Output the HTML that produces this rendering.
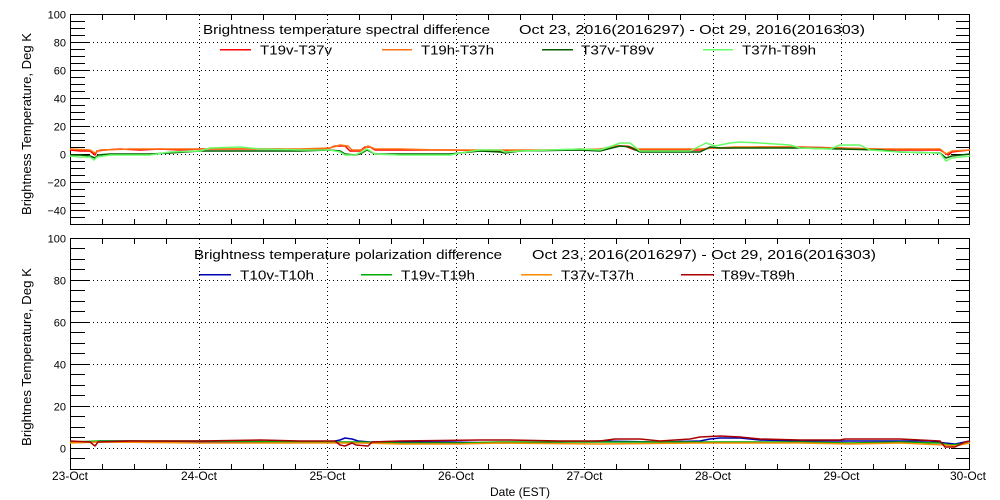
<!DOCTYPE html>
<html><head><meta charset="utf-8"><style>
html,body{margin:0;padding:0;background:#fff;}
svg{display:block;}
text{font-family:"Liberation Sans",sans-serif;fill:#000;}
</style></head><body>
<svg width="1000" height="500" viewBox="0 0 1000 500" xmlns="http://www.w3.org/2000/svg">
<rect width="1000" height="500" fill="#fff"/>

<!-- ============ TOP PANEL ============ -->
<g stroke="#000" stroke-width="1" fill="none" shape-rendering="crispEdges">
<rect x="70.5" y="14.5" width="899" height="210"/>
<path d="M70 21.5h15M70 28.5h15M70 35.5h15M70 49.5h15M70 56.5h15M70 63.5h15M70 77.5h15M70 84.5h15M70 91.5h15M70 105.5h15M70 112.5h15M70 119.5h15M70 133.5h15M70 140.5h15M70 147.5h15M70 161.5h15M70 168.5h15M70 175.5h15M70 189.5h15M70 196.5h15M70 203.5h15M70 217.5h15"/>
<path d="M970 21.5h-14M970 28.5h-14M970 35.5h-14M970 49.5h-14M970 56.5h-14M970 63.5h-14M970 77.5h-14M970 84.5h-14M970 91.5h-14M970 105.5h-14M970 112.5h-14M970 119.5h-14M970 133.5h-14M970 140.5h-14M970 147.5h-14M970 161.5h-14M970 168.5h-14M970 175.5h-14M970 189.5h-14M970 196.5h-14M970 203.5h-14M970 217.5h-14"/>
<path d="M70 42.5h19M70 70.5h19M70 98.5h19M70 126.5h19M70 154.5h19M70 182.5h19M70 210.5h19"/>
<path d="M970 42.5h-19M970 70.5h-19M970 98.5h-19M970 126.5h-19M970 154.5h-19M970 182.5h-19M970 210.5h-19"/>
<path d="M102.5 15v5M134.5 15v5M166.5 15v5M231.5 15v5M263.5 15v5M295.5 15v5M359.5 15v5M391.5 15v5M423.5 15v5M488.5 15v5M520.5 15v5M552.5 15v5M616.5 15v5M648.5 15v5M680.5 15v5M745.5 15v5M777.5 15v5M809.5 15v5M873.5 15v5M905.5 15v5M938.5 15v5"/>
<path d="M102.5 224v-5M134.5 224v-5M166.5 224v-5M231.5 224v-5M263.5 224v-5M295.5 224v-5M359.5 224v-5M391.5 224v-5M423.5 224v-5M488.5 224v-5M520.5 224v-5M552.5 224v-5M616.5 224v-5M648.5 224v-5M680.5 224v-5M745.5 224v-5M777.5 224v-5M809.5 224v-5M873.5 224v-5M905.5 224v-5M938.5 224v-5"/>
</g>
<g stroke="#000" stroke-width="1" fill="none" stroke-dasharray="1 3" shape-rendering="crispEdges">
<path d="M89 42.5H951M89 70.5H951M89 98.5H951M89 126.5H951M89 154.5H951M89 182.5H951M89 210.5H951"/>
<path d="M199.5 15V224M327.5 15V224M456.5 15V224M584.5 15V224M713.5 15V224M841.5 15V224"/>
</g>

<g fill="none" stroke-width="1.5" stroke-linejoin="round">
<polyline stroke="#ff0000" points="70,150 80,151 90,151 95,155 97,151 105,150 120,149 140,150 160,149 180,150 200,149 240,149 280,149 300,150 320,149 330,148 335,146 345,146 350,151 360,151 365,147 370,147 375,150 400,150 450,150 500,151 560,150 580,149 600,150 615,146 625,146 635,150 700,150 710,148 730,148 760,147 800,147 840,148 870,149 900,150 940,150 945,153 948,155 952,152 960,151 970,150"/>
<polyline stroke="#ff7010" points="70,149 90,150 95,153 100,150 130,149 200,149 300,149 330,148 340,145 348,146 352,150 362,150 368,146 375,149 400,149 440,150 500,150 560,150 600,149 618,146 628,146 636,149 700,149 715,148 735,147 780,147 840,148 880,149 940,149 946,154 952,151 970,150"/>
<polyline stroke="#005a00" points="70,155 80,155 90,156 95,158 98,155 110,154 150,154 170,153 200,151 240,151 300,151 330,150 340,151 345,154 355,155 360,154 367,150 375,154 400,154 450,154 460,153 480,151 500,152 505,153 520,151 580,150 600,151 612,148 620,146 630,147 640,152 700,152 710,147 720,148 740,148 800,148 840,149 880,150 900,152 940,153 946,158 952,156 970,154"/>
<polyline stroke="#66ff66" points="70,156 80,157 90,157 94,160 97,157 110,155 150,155 170,152 200,151 210,148 240,147 260,149 300,150 330,150 340,152 345,155 355,155 362,152 367,149 375,154 400,155 450,155 460,153 480,150 500,150 505,152 520,151 580,149 600,150 612,146 620,143 630,143 640,151 690,151 700,146 706,143 715,146 730,143 740,142 760,143 790,145 800,148 830,149 840,145 860,145 870,150 900,152 940,153 946,161 952,158 970,156"/>
</g>

<g font-size="11" text-anchor="end">
<text x="66" y="18.5">100</text>
<text x="66" y="46.5">80</text>
<text x="66" y="74.5">60</text>
<text x="66" y="102.5">40</text>
<text x="66" y="130.5">20</text>
<text x="66" y="158.5">0</text>
<text x="66" y="186.5">−20</text>
<text x="66" y="214.5">−40</text>
</g>
<text font-size="13" text-anchor="middle" transform="translate(31,124) rotate(-90)" textLength="182" lengthAdjust="spacingAndGlyphs">Brightness Temperature, Deg K</text>

<g font-size="13">
<text x="203" y="34" textLength="287" lengthAdjust="spacingAndGlyphs">Brightness temperature spectral difference</text>
<text x="519" y="34" textLength="346" lengthAdjust="spacingAndGlyphs">Oct 23, 2016(2016297) - Oct 29, 2016(2016303)</text>
<text x="260" y="54.5" textLength="72" lengthAdjust="spacingAndGlyphs">T19v-T37v</text>
<text x="421" y="54.5" textLength="73" lengthAdjust="spacingAndGlyphs">T19h-T37h</text>
<text x="581" y="54.5" textLength="73" lengthAdjust="spacingAndGlyphs">T37v-T89v</text>
<text x="742" y="54.5" textLength="74" lengthAdjust="spacingAndGlyphs">T37h-T89h</text>
</g>
<g shape-rendering="crispEdges">
<rect x="220" y="49" width="31" height="1.5" fill="#ff0000"/>
<rect x="382" y="49" width="30" height="1.5" fill="#ff7010"/>
<rect x="542" y="49" width="31" height="1.5" fill="#005a00"/>
<rect x="703" y="49" width="30" height="1.5" fill="#66ff66"/>
</g>

<!-- ============ BOTTOM PANEL ============ -->
<g stroke="#000" stroke-width="1" fill="none" shape-rendering="crispEdges">
<rect x="70.5" y="238.5" width="899" height="231"/>
<path d="M70 248.5h15M70 259.5h15M70 269.5h15M70 290.5h15M70 301.5h15M70 311.5h15M70 332.5h15M70 343.5h15M70 353.5h15M70 374.5h15M70 385.5h15M70 395.5h15M70 416.5h15M70 427.5h15M70 437.5h15M70 458.5h15"/>
<path d="M970 248.5h-14M970 259.5h-14M970 269.5h-14M970 290.5h-14M970 301.5h-14M970 311.5h-14M970 332.5h-14M970 343.5h-14M970 353.5h-14M970 374.5h-14M970 385.5h-14M970 395.5h-14M970 416.5h-14M970 427.5h-14M970 437.5h-14M970 458.5h-14"/>
<path d="M70 280.5h19M70 322.5h19M70 364.5h19M70 406.5h19M70 448.5h19"/>
<path d="M970 280.5h-19M970 322.5h-19M970 364.5h-19M970 406.5h-19M970 448.5h-19"/>
<path d="M102.5 239v5M134.5 239v5M166.5 239v5M231.5 239v5M263.5 239v5M295.5 239v5M359.5 239v5M391.5 239v5M423.5 239v5M488.5 239v5M520.5 239v5M552.5 239v5M616.5 239v5M648.5 239v5M680.5 239v5M745.5 239v5M777.5 239v5M809.5 239v5M873.5 239v5M905.5 239v5M938.5 239v5"/>
<path d="M102.5 469v-5M134.5 469v-5M166.5 469v-5M231.5 469v-5M263.5 469v-5M295.5 469v-5M359.5 469v-5M391.5 469v-5M423.5 469v-5M488.5 469v-5M520.5 469v-5M552.5 469v-5M616.5 469v-5M648.5 469v-5M680.5 469v-5M745.5 469v-5M777.5 469v-5M809.5 469v-5M873.5 469v-5M905.5 469v-5M938.5 469v-5"/>
</g>
<g stroke="#000" stroke-width="1" fill="none" stroke-dasharray="1 3" shape-rendering="crispEdges">
<path d="M89 280.5H951M89 322.5H951M89 364.5H951M89 406.5H951M89 448.5H951"/>
<path d="M199.5 239V469M327.5 239V469M456.5 239V469M584.5 239V469M713.5 239V469M841.5 239V469"/>
</g>

<g fill="none" stroke-width="1.5" stroke-linejoin="round">
<polyline stroke="#0000b0" points="70,442 90,442 100,441 130,441 200,442 260,442 300,442 330,442 340,440 345,438 352,439 358,441 370,442 400,442 450,442 500,443 560,442 600,441 660,442 700,441 710,439 720,438 740,438 760,440 800,441 840,441 900,441 930,441 945,443 955,444 970,441"/>
<polyline stroke="#00aa00" points="70,442 100,441 200,441 300,442 340,442 360,442 400,443 460,443 500,442 600,442 700,442 800,442 850,443 900,442 940,443 950,445 970,443"/>
<polyline stroke="#ff8c00" points="70,443 100,442 200,443 300,443 340,443 360,443 400,444 460,444 500,443 600,444 700,443 800,443 850,444 900,443 945,445 955,446 970,443"/>
<polyline stroke="#aa0000" points="70,441 90,442 95,446 98,442 130,441 200,441 260,440 300,441 335,441 340,445 345,446 352,443 356,445 368,446 372,442 400,441 480,440 510,440 560,441 600,441 615,439 640,439 660,441 690,439 700,437 720,436 740,437 760,439 800,440 840,440 845,439 900,439 940,441 945,447 955,447 965,442 970,441"/>
</g>

<g font-size="11" text-anchor="end">
<text x="66" y="242.5">100</text>
<text x="66" y="284.5">80</text>
<text x="66" y="326.5">60</text>
<text x="66" y="368.5">40</text>
<text x="66" y="410.5">20</text>
<text x="66" y="452.5">0</text>
</g>
<text font-size="13" text-anchor="middle" transform="translate(31,357) rotate(-90)" textLength="178" lengthAdjust="spacingAndGlyphs">Brightnes Temperature, Deg K</text>

<g font-size="13">
<text x="194" y="259" textLength="308" lengthAdjust="spacingAndGlyphs">Brightness temperature polarization difference</text>
<text x="532" y="259" textLength="344" lengthAdjust="spacingAndGlyphs">Oct 23, 2016(2016297) - Oct 29, 2016(2016303)</text>
<text x="240" y="279.5" textLength="74" lengthAdjust="spacingAndGlyphs">T10v-T10h</text>
<text x="401" y="279.5" textLength="74" lengthAdjust="spacingAndGlyphs">T19v-T19h</text>
<text x="561" y="279.5" textLength="73" lengthAdjust="spacingAndGlyphs">T37v-T37h</text>
<text x="721" y="279.5" textLength="74" lengthAdjust="spacingAndGlyphs">T89v-T89h</text>
</g>
<g shape-rendering="crispEdges">
<rect x="199" y="274" width="32" height="1.5" fill="#0000b0"/>
<rect x="361" y="274" width="31" height="1.5" fill="#00aa00"/>
<rect x="521" y="274" width="31" height="1.5" fill="#ff8c00"/>
<rect x="681" y="274" width="33" height="1.5" fill="#aa0000"/>
</g>

<g font-size="12" text-anchor="middle">
<text x="70" y="480">23-Oct</text>
<text x="199" y="480">24-Oct</text>
<text x="327.5" y="480">25-Oct</text>
<text x="456" y="480">26-Oct</text>
<text x="584.5" y="480">27-Oct</text>
<text x="713" y="480">28-Oct</text>
<text x="841.5" y="480">29-Oct</text>
<text x="968" y="480">30-Oct</text>
</g>
<text x="520" y="496" font-size="12" text-anchor="middle">Date (EST)</text>
</svg>
</body></html>
